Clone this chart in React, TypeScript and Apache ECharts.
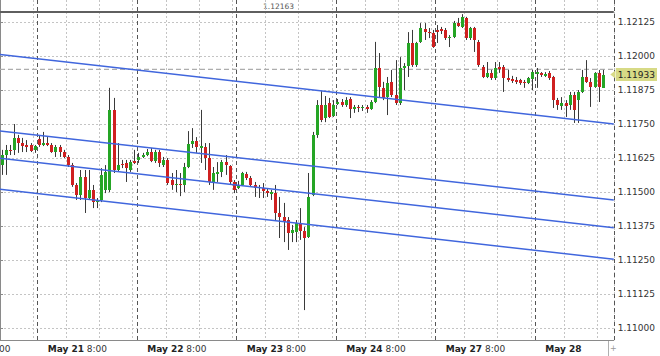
import React, { useEffect, useRef } from 'react';
import * as echarts from 'echarts';

// Hourly candles: [open, close, low, high]
const CANDLES: number[][] = [
  [1.11600, 1.11637, 1.11564, 1.11656],
  [1.11637, 1.11656, 1.11564, 1.11674],
  [1.11656, 1.11652, 1.11637, 1.11674],
  [1.11656, 1.11700, 1.11637, 1.11751],
  [1.11700, 1.11681, 1.11645, 1.11711],
  [1.11681, 1.11670, 1.11648, 1.11700],
  [1.11674, 1.11667, 1.11648, 1.11692],
  [1.11674, 1.11652, 1.11648, 1.11681],
  [1.11656, 1.11670, 1.11645, 1.11674],
  [1.11696, 1.11674, 1.11667, 1.11707],
  [1.11674, 1.11681, 1.11670, 1.11722],
  [1.11681, 1.11674, 1.11670, 1.11703],
  [1.11674, 1.11648, 1.11645, 1.11681],
  [1.11648, 1.11667, 1.11630, 1.11674],
  [1.11667, 1.11648, 1.11630, 1.11674],
  [1.11648, 1.11630, 1.11626, 1.11656],
  [1.11630, 1.11600, 1.11593, 1.11637],
  [1.11600, 1.11527, 1.11520, 1.11608],
  [1.11527, 1.11490, 1.11472, 1.11534],
  [1.11490, 1.11556, 1.11472, 1.11582],
  [1.11556, 1.11479, 1.11424, 1.11582],
  [1.11479, 1.11509, 1.11472, 1.11582],
  [1.11509, 1.11464, 1.11442, 1.11527],
  [1.11464, 1.11468, 1.11442, 1.11479],
  [1.11472, 1.11564, 1.11464, 1.11589],
  [1.11509, 1.11575, 1.11497, 1.11600],
  [1.11509, 1.11803, 1.11501, 1.11884],
  [1.11803, 1.11582, 1.11571, 1.11847],
  [1.11582, 1.11600, 1.11575, 1.11681],
  [1.11604, 1.11600, 1.11589, 1.11619],
  [1.11608, 1.11589, 1.11538, 1.11619],
  [1.11582, 1.11611, 1.11575, 1.11619],
  [1.11615, 1.11608, 1.11604, 1.11656],
  [1.11619, 1.11630, 1.11608, 1.11645],
  [1.11630, 1.11637, 1.11626, 1.11645],
  [1.11637, 1.11648, 1.11633, 1.11659],
  [1.11648, 1.11615, 1.11611, 1.11663],
  [1.11615, 1.11648, 1.11608, 1.11656],
  [1.11648, 1.11608, 1.11593, 1.11656],
  [1.11600, 1.11619, 1.11593, 1.11630],
  [1.11619, 1.11534, 1.11527, 1.11626],
  [1.11545, 1.11527, 1.11509, 1.11571],
  [1.11527, 1.11531, 1.11501, 1.11582],
  [1.11531, 1.11527, 1.11486, 1.11571],
  [1.11527, 1.11593, 1.11501, 1.11608],
  [1.11593, 1.11678, 1.11589, 1.11725],
  [1.11678, 1.11689, 1.11663, 1.11736],
  [1.11689, 1.11667, 1.11645, 1.11703],
  [1.11663, 1.11670, 1.11608, 1.11803],
  [1.11667, 1.11626, 1.11582, 1.11681],
  [1.11626, 1.11538, 1.11527, 1.11681],
  [1.11538, 1.11571, 1.11509, 1.11593],
  [1.11567, 1.11575, 1.11538, 1.11611],
  [1.11575, 1.11611, 1.11556, 1.11619],
  [1.11611, 1.11600, 1.11564, 1.11637],
  [1.11597, 1.11538, 1.11527, 1.11600],
  [1.11538, 1.11509, 1.11497, 1.11545],
  [1.11516, 1.11527, 1.11512, 1.11542],
  [1.11527, 1.11571, 1.11523, 1.11575],
  [1.11567, 1.11553, 1.11545, 1.11575],
  [1.11553, 1.11527, 1.11520, 1.11560],
  [1.11527, 1.11516, 1.11483, 1.11538],
  [1.11520, 1.11516, 1.11479, 1.11527],
  [1.11516, 1.11505, 1.11479, 1.11534],
  [1.11505, 1.11497, 1.11483, 1.11512],
  [1.11494, 1.11501, 1.11472, 1.11509],
  [1.11497, 1.11424, 1.11398, 1.11527],
  [1.11424, 1.11409, 1.11332, 1.11483],
  [1.11409, 1.11391, 1.11317, 1.11461],
  [1.11398, 1.11350, 1.11288, 1.11409],
  [1.11350, 1.11361, 1.11317, 1.11380],
  [1.11354, 1.11387, 1.11317, 1.11398],
  [1.11384, 1.11358, 1.11325, 1.11442],
  [1.11358, 1.11332, 1.11067, 1.11372],
  [1.11336, 1.11483, 1.11332, 1.11571],
  [1.11490, 1.11711, 1.11486, 1.11722],
  [1.11711, 1.11821, 1.11700, 1.11839],
  [1.11821, 1.11766, 1.11758, 1.11872],
  [1.11773, 1.11821, 1.11758, 1.11854],
  [1.11828, 1.11777, 1.11773, 1.11847],
  [1.11781, 1.11821, 1.11777, 1.11839],
  [1.11825, 1.11832, 1.11821, 1.11843],
  [1.11832, 1.11821, 1.11814, 1.11843],
  [1.11821, 1.11839, 1.11814, 1.11850],
  [1.11843, 1.11806, 1.11773, 1.11850],
  [1.11806, 1.11814, 1.11792, 1.11821],
  [1.11814, 1.11810, 1.11795, 1.11821],
  [1.11810, 1.11814, 1.11799, 1.11821],
  [1.11814, 1.11806, 1.11792, 1.11821],
  [1.11806, 1.11832, 1.11803, 1.11839],
  [1.11832, 1.11957, 1.11828, 1.12053],
  [1.11957, 1.11887, 1.11850, 1.12012],
  [1.11884, 1.11847, 1.11839, 1.11906],
  [1.11850, 1.11902, 1.11784, 1.11924],
  [1.11906, 1.11858, 1.11850, 1.11950],
  [1.11858, 1.11828, 1.11821, 1.11986],
  [1.11828, 1.11957, 1.11821, 1.11997],
  [1.11957, 1.11964, 1.11876, 1.11975],
  [1.11964, 1.12049, 1.11924, 1.12089],
  [1.12049, 1.11968, 1.11961, 1.12097],
  [1.11968, 1.12049, 1.11961, 1.12053],
  [1.12053, 1.12104, 1.12049, 1.12122],
  [1.12100, 1.12089, 1.12060, 1.12122],
  [1.12089, 1.12086, 1.12067, 1.12104],
  [1.12086, 1.12034, 1.12031, 1.12097],
  [1.12097, 1.12089, 1.12049, 1.12115],
  [1.12100, 1.12093, 1.12082, 1.12108],
  [1.12097, 1.12067, 1.12060, 1.12104],
  [1.12067, 1.12071, 1.12034, 1.12078],
  [1.12071, 1.12122, 1.12067, 1.12130],
  [1.12122, 1.12111, 1.12108, 1.12141],
  [1.12108, 1.12145, 1.12104, 1.12155],
  [1.12141, 1.12067, 1.12060, 1.12145],
  [1.12067, 1.12104, 1.12060, 1.12108],
  [1.12104, 1.12060, 1.12016, 1.12108],
  [1.12053, 1.11968, 1.11961, 1.12060],
  [1.11961, 1.11924, 1.11920, 1.11968],
  [1.11924, 1.11939, 1.11920, 1.11979],
  [1.11939, 1.11920, 1.11913, 1.11950],
  [1.11920, 1.11957, 1.11913, 1.11979],
  [1.11961, 1.11953, 1.11939, 1.11979],
  [1.11961, 1.11920, 1.11869, 1.11968],
  [1.11920, 1.11913, 1.11906, 1.11950],
  [1.11917, 1.11909, 1.11902, 1.11928],
  [1.11913, 1.11906, 1.11898, 1.11924],
  [1.11913, 1.11902, 1.11895, 1.11917],
  [1.11906, 1.11902, 1.11884, 1.11913],
  [1.11902, 1.11920, 1.11898, 1.11924],
  [1.11917, 1.11942, 1.11876, 1.11950],
  [1.11935, 1.11942, 1.11884, 1.11957],
  [1.11939, 1.11931, 1.11924, 1.11942],
  [1.11928, 1.11935, 1.11924, 1.11942],
  [1.11939, 1.11920, 1.11913, 1.11946],
  [1.11924, 1.11839, 1.11810, 1.11928],
  [1.11839, 1.11821, 1.11803, 1.11847],
  [1.11817, 1.11828, 1.11803, 1.11850],
  [1.11828, 1.11817, 1.11777, 1.11839],
  [1.11821, 1.11858, 1.11803, 1.11869],
  [1.11858, 1.11803, 1.11755, 1.11869],
  [1.11839, 1.11869, 1.11755, 1.11876],
  [1.11869, 1.11924, 1.11865, 1.11950],
  [1.11924, 1.11906, 1.11902, 1.11986],
  [1.11906, 1.11887, 1.11814, 1.11920],
  [1.11887, 1.11939, 1.11884, 1.11942],
  [1.11939, 1.11887, 1.11832, 1.11950],
  [1.11884, 1.11933, 1.11884, 1.11950],
];

const SLOTS = 148; // bar slots across the chart (includes right shift)
const Y_MIN = 1.10957;
const Y_MAX = 1.12207;
const Y_TICKS = [1.11000, 1.11125, 1.11250, 1.11375, 1.11500, 1.11625, 1.11750, 1.11875, 1.12000, 1.12125];

const DAY_LABELS = ['May 21', 'May 22', 'May 23', 'May 24', 'May 27', 'May 28'];
const TIME_LABELS = ['8:00', '8:00', '8:00', '8:00', '8:00', ''];
const LABEL_BARS = [11, 35, 59, 83, 107, 131];
const SEPARATOR_BARS = [9, 33, 57, 81, 105, 129];
const GRID_STEP_BARS = 8;

// trend lines: [price at left edge, price at right edge]
const TRENDLINES: number[][] = [
  [1.12007, 1.11751],
  [1.11725, 1.11472],
  [1.11625, 1.11370],
  [1.11511, 1.11254],
];

const HLINE = 1.12163;
const HLINE_LABEL = '1.12163';
const ASK_LINE = 1.11952;
const LAST_PRICE = 1.11933;

const FONT = 'DejaVu Sans';
const GREEN = '#25a525';
const RED = '#cf2020';
const WICK = '#3a3a3a';
const BLUE = '#4066dd';
const PRICE_BG = '#d7da86';

const CATEGORIES = Array.from({ length: SLOTS }, (_, i) => String(i));

export default function App() {
  const ref = useRef<HTMLDivElement>(null);

  useEffect(() => {
    if (!ref.current) return;
    const chart = echarts.init(ref.current, undefined, { renderer: 'svg' });

    const candleData = CANDLES.map((c, i) => [i, c[0], c[1], c[2], c[3]]);

    const trendSeries = TRENDLINES.map((t) => ({
      type: 'line',
      xAxisIndex: 2,
      yAxisIndex: 0,
      data: [[0, t[0]], [SLOTS, t[1]]],
      symbol: 'none',
      silent: true,
      lineStyle: { color: BLUE, width: 1.5 },
      z: 5,
    }));

    const levelSeries = [
      {
        type: 'line',
        xAxisIndex: 2,
        yAxisIndex: 0,
        data: [[0, HLINE], [SLOTS, HLINE]],
        symbol: 'none',
        silent: true,
        lineStyle: { color: '#5f5f5f', width: 2 },
        z: 4,
      },
      {
        type: 'line',
        xAxisIndex: 2,
        yAxisIndex: 0,
        data: [[0, ASK_LINE], [SLOTS, ASK_LINE]],
        symbol: 'none',
        silent: true,
        lineStyle: { color: '#adadad', width: 1.3, type: [5, 3] },
        z: 2,
        markPoint: {
          silent: true,
          animation: false,
          data: [
            {
              coord: [SLOTS, LAST_PRICE],
              symbol: 'triangle',
              symbolSize: [8, 5],
              symbolRotate: 90,
              symbolOffset: [-1, 0],
              itemStyle: { color: PRICE_BG },
              label: { show: false },
            },
          ],
        },
      },
    ];

    const option: any = {
      animation: false,
      backgroundColor: '#ffffff',
      grid: { left: 0, right: 43, top: 0, bottom: 16, containLabel: false },
      xAxis: [
        {
          type: 'category',
          data: CATEGORIES,
          boundaryGap: true,
          position: 'bottom',
          axisLine: { show: true, lineStyle: { color: '#8a8a8a', width: 1 } },
          axisTick: { show: false },
          axisLabel: {
            show: true,
            interval: (i: number) => LABEL_BARS.includes(i),
            align: 'left',
            margin: 4,
            fontFamily: FONT,
            fontSize: 9,
            color: '#333',
            formatter: (_v: string, i: number) => {
              const k = LABEL_BARS.indexOf(i);
              if (k < 0) return '';
              return TIME_LABELS[k]
                ? `{d|${DAY_LABELS[k]}} {t|${TIME_LABELS[k]}}`
                : `{d|${DAY_LABELS[k]}}`;
            },
            rich: {
              d: { fontFamily: FONT, fontSize: 9, fontWeight: 'bold', color: '#222' },
              t: { fontFamily: FONT, fontSize: 9, color: '#333' },
            },
          },
          splitLine: {
            show: true,
            interval: (i: number) => i > 0 && i % GRID_STEP_BARS === 0,
            lineStyle: { color: '#c4c4c4', width: 1, type: [2, 2] },
          },
        },
        {
          type: 'category',
          data: CATEGORIES,
          boundaryGap: true,
          position: 'top',
          axisLine: { show: false },
          axisTick: { show: false },
          axisLabel: { show: false },
          splitLine: {
            show: true,
            interval: (i: number) => SEPARATOR_BARS.includes(i),
            lineStyle: { color: '#555', width: 1, type: [4, 3] },
          },
        },
        {
          type: 'value',
          min: 0,
          max: SLOTS,
          show: false,
        },
      ],
      yAxis: [
        {
          type: 'value',
          position: 'right',
          min: Y_MIN,
          max: Y_MAX,
          axisLine: { show: true, lineStyle: { color: '#8a8a8a', width: 1 } },
          axisTick: {
            show: true,
            length: 3,
            customValues: Y_TICKS,
            lineStyle: { color: '#8a8a8a' },
          },
          axisLabel: {
            show: true,
            customValues: Y_TICKS,
            margin: 4,
            fontFamily: FONT,
            fontSize: 9,
            color: '#333',
            formatter: (v: number) => v.toFixed(5),
          },
          splitLine: {
            show: true,
            lineStyle: { color: '#c4c4c4', width: 1, type: [2, 2] },
          },
        },
        {
          type: 'value',
          position: 'right',
          min: Y_MIN,
          max: Y_MAX,
          axisLine: { show: false },
          axisTick: { show: false, customValues: [LAST_PRICE] },
          splitLine: { show: false },
          axisLabel: {
            show: true,
            customValues: [LAST_PRICE],
            margin: 2,
            fontFamily: FONT,
            fontSize: 9,
            color: '#222',
            backgroundColor: PRICE_BG,
            padding: [2, 2, 2, 2],
            formatter: (v: number) => v.toFixed(5),
          },
        },
      ],
      series: [
        ...levelSeries,
        ...trendSeries,
        {
          type: 'custom',
          xAxisIndex: 0,
          yAxisIndex: 0,
          clip: true,
          silent: true,
          z: 3,
          encode: { x: 0, y: [1, 2, 3, 4] },
          data: candleData,
          renderItem: (_params: any, api: any) => {
            const i = api.value(0);
            const o = api.value(1);
            const c = api.value(2);
            const l = api.value(3);
            const h = api.value(4);
            const pO = api.coord([i, o]);
            const pC = api.coord([i, c]);
            const pL = api.coord([i, l]);
            const pH = api.coord([i, h]);
            const left = Math.round(pO[0] - 1.5);
            const top = Math.round(Math.min(pO[1], pC[1]));
            const bottom = Math.round(Math.max(pO[1], pC[1]));
            const up = c >= o;
            return {
              type: 'group',
              children: [
                {
                  type: 'line',
                  shape: { x1: left + 1.5, y1: pH[1], x2: left + 1.5, y2: pL[1] },
                  style: { stroke: WICK, lineWidth: 1 },
                },
                {
                  type: 'rect',
                  shape: { x: left, y: top, width: 3, height: Math.max(1, bottom - top) },
                  style: { fill: up ? GREEN : RED },
                },
              ],
            };
          },
        },
      ],
      graphic: [
        {
          type: 'text',
          left: 263,
          top: 2,
          silent: true,
          style: { text: HLINE_LABEL, fontFamily: FONT, fontSize: 7.5, fill: '#555' },
        },
        {
          type: 'text',
          left: -1,
          top: 344,
          silent: true,
          style: { text: '00', fontFamily: FONT, fontSize: 9, fill: '#333' },
        },
        {
          type: 'line',
          silent: true,
          shape: { x1: 608.5, y1: 341, x2: 608.5, y2: 356 },
          style: { stroke: '#b0b0b0', lineWidth: 1 },
        },
        {
          type: 'text',
          left: 610,
          top: 344,
          silent: true,
          style: { text: '+', fontFamily: FONT, fontSize: 8, fill: '#999' },
        },
      ],
    };

    chart.setOption(option);
    return () => chart.dispose();
  }, []);

  return (
    <div
      ref={ref}
      style={{ position: 'absolute', left: 0, top: 0, width: 660, height: 356, background: '#fff' }}
    />
  );
}
